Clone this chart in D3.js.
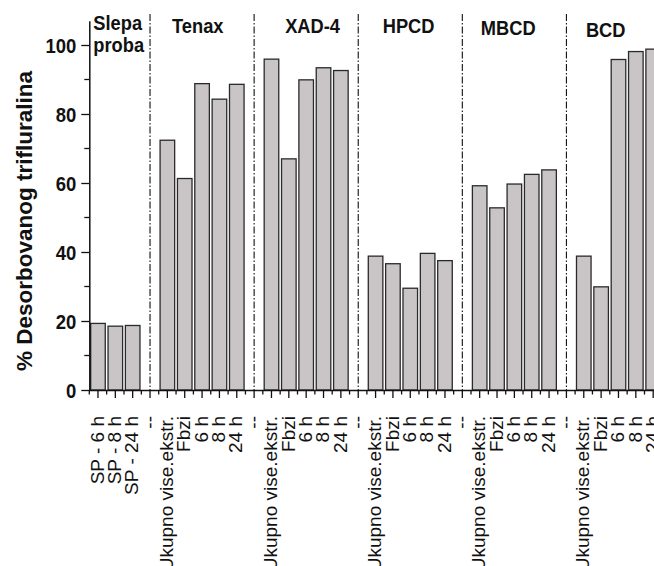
<!DOCTYPE html>
<html>
<head>
<meta charset="utf-8">
<script src="https://cdn.jsdelivr.net/npm/d3@7"></script>
<style>
  body { margin: 0; background: #fff; }
  svg { display: block; font-family: "Liberation Sans", Arial, sans-serif; }
</style>
</head>
<body>
<div id="chart"></div>
<script>
// category labels along the x axis ("--" marks the gap between groups)
const categories = [
  "SP - 6 h", "SP - 8 h", "SP - 24 h", "--",
  "Ukupno vise.ekstr.", "Fbzi", "6 h", "8 h", "24 h", "--",
  "Ukupno vise.ekstr.", "Fbzi", "6 h", "8 h", "24 h", "--",
  "Ukupno vise.ekstr.", "Fbzi", "6 h", "8 h", "24 h", "--",
  "Ukupno vise.ekstr.", "Fbzi", "6 h", "8 h", "24 h", "--",
  "Ukupno vise.ekstr.", "Fbzi", "6 h", "8 h", "24 h"
];
// % desorbed trifluralin, null where there is no bar
const values = [
  19.3, 18.5, 18.7, null,
  72.4, 61.3, 88.8, 84.3, 88.6, null,
  95.9, 67.0, 89.9, 93.4, 92.6, null,
  38.8, 36.6, 29.5, 39.6, 37.5, null,
  59.2, 52.8, 59.7, 62.5, 63.8, null,
  38.8, 29.9, 95.8, 98.1, 98.8
];
const groups = [["Slepa", "proba"], ["Tenax"], ["XAD-4"], ["HPCD"], ["MBCD"], ["BCD"]];
const yTicks = [0, 20, 40, 60, 80, 100];
const yMinorTicks = [10, 30, 50, 70, 90];
const yTitle = "% Desorbovanog trifluralina";

const W = 654, H = 566;
const left = 89.3, bottom = 390, step = 17.35;

const svg = d3.select("#chart").append("svg")
  .attr("width", W).attr("height", H);

const x = d3.scaleBand()
  .domain(d3.range(categories.length))
  .range([left, left + step * categories.length])
  .paddingInner(0.16)
  .paddingOuter(0.08);

const y = d3.scaleLinear().domain([0, 107]).range([bottom, bottom - 3.45 * 107]);

// squeeze text horizontally like the original condensed labels
function squeeze(sel, k) {
  sel.each(function () {
    const len = this.getComputedTextLength();
    d3.select(this).attr("textLength", len * k).attr("lengthAdjust", "spacingAndGlyphs");
  });
}

// group separators (dash-dot) at the gap slots
const gaps = categories.map((c, i) => c === "--" ? i : -1).filter(i => i >= 0);
svg.selectAll(".sep").data(gaps).join("line")
  .attr("class", "sep")
  .attr("x1", i => x(i) + x.bandwidth() / 2)
  .attr("x2", i => x(i) + x.bandwidth() / 2)
  .attr("y1", y(109)).attr("y2", bottom)
  .attr("stroke", "#111").attr("stroke-width", 1.1)
  .attr("stroke-dasharray", "7,2,1.5,2");

// bars
svg.selectAll(".bar").data(values.map((v, i) => ({ v, i })).filter(d => d.v !== null))
  .join("rect")
  .attr("class", "bar")
  .attr("x", d => x(d.i))
  .attr("width", x.bandwidth())
  .attr("y", d => y(d.v))
  .attr("height", d => bottom - y(d.v))
  .attr("fill", "#c9c5c7")
  .attr("stroke", "#2a2a2a")
  .attr("stroke-width", 1.3);

// x axis with major ticks at bar centres
const xAxis = svg.append("g")
  .attr("transform", `translate(0,${bottom})`)
  .call(d3.axisBottom(x).tickSize(8).tickSizeOuter(0).tickFormat(i => categories[i]));
xAxis.select(".domain").attr("stroke", "#111").attr("stroke-width", 1.5);
xAxis.selectAll(".tick line").attr("stroke", "#111").attr("stroke-width", 1.3);
xAxis.selectAll(".tick text")
  .attr("transform", "rotate(-90)")
  .attr("x", -26).attr("y", 0).attr("dy", "0.3em")
  .attr("text-anchor", "end")
  .attr("font-size", 19).attr("fill", "#111");

// minor ticks at slot boundaries
xAxis.selectAll(".minor").data(d3.range(categories.length + 1)).join("line")
  .attr("class", "minor")
  .attr("x1", i => left + step * i).attr("x2", i => left + step * i)
  .attr("y1", 0).attr("y2", 4.5)
  .attr("stroke", "#111").attr("stroke-width", 1.3);

// y axis
const yAxis = svg.append("g")
  .attr("transform", `translate(${left},0)`)
  .call(d3.axisLeft(y).tickValues(yTicks).tickSize(8).tickSizeOuter(0).tickPadding(5));
yAxis.select(".domain").attr("stroke", "#111").attr("stroke-width", 1.5);
yAxis.selectAll(".tick line").attr("stroke", "#111").attr("stroke-width", 1.3);
yAxis.selectAll(".tick text")
  .attr("font-size", 21).attr("font-weight", "bold").attr("fill", "#111")
  .attr("dy", "0.36em")
  .call(squeeze, 0.88);
yAxis.selectAll(".minor").data(yMinorTicks).join("line")
  .attr("class", "minor")
  .attr("x1", -5).attr("x2", 0)
  .attr("y1", d => y(d)).attr("y2", d => y(d))
  .attr("stroke", "#111").attr("stroke-width", 1.3);

// y axis title
svg.append("text")
  .attr("transform", `translate(32,${221}) rotate(-90)`)
  .attr("text-anchor", "middle")
  .attr("font-size", 22.5).attr("font-weight", "bold").attr("fill", "#111")
  .text(yTitle);

// group titles, placed just right of each separator
const starts = [left].concat(gaps.map(i => x(i) + x.bandwidth() / 2));
const titleDx = [4, 22, 31, 24.5, 18.5, 19.5];
const titleY = [30, 32.5, 33, 33.3, 35, 36.7];
groups.forEach((g, k) => {
  g.forEach((line, j) => {
    svg.append("text")
      .attr("x", starts[k] + titleDx[k])
      .attr("y", titleY[k] + j * 22)
      .attr("font-size", 21).attr("font-weight", "bold").attr("fill", "#111")
      .text(line)
      .call(squeeze, 0.87);
  });
});
</script>
</body>
</html>
